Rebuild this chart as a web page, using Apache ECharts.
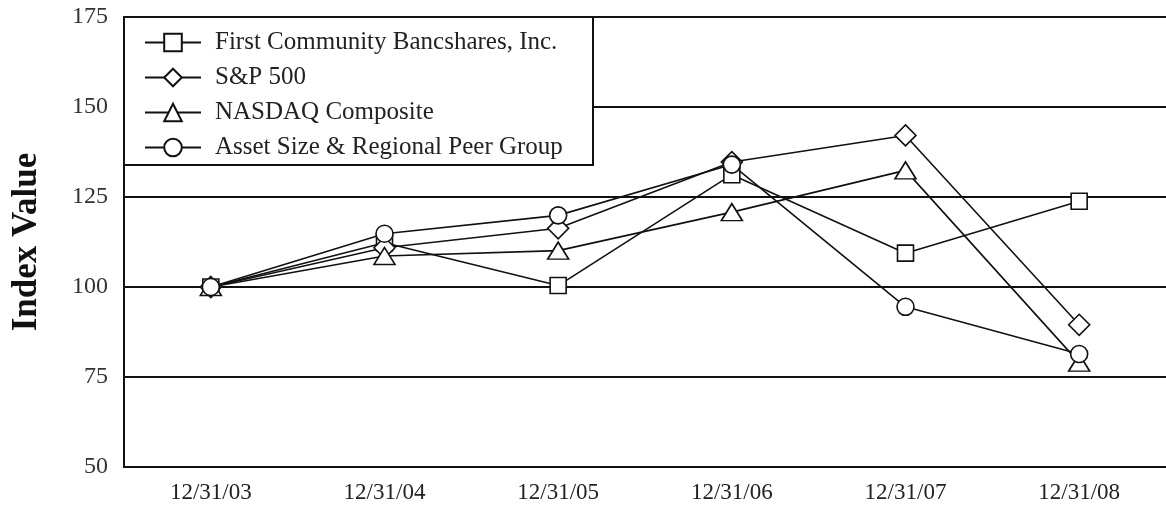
<!DOCTYPE html>
<html>
<head>
<meta charset="utf-8">
<script src="https://cdn.jsdelivr.net/npm/echarts@6/dist/echarts.min.js"></script>
<style>
  html, body { margin: 0; padding: 0; background: #fff; }
  #chart { width: 1166px; height: 515px; }
</style>
</head>
<body>
<div id="chart"></div>
<script>
const categories = ['12/31/03', '12/31/04', '12/31/05', '12/31/06', '12/31/07', '12/31/08']
const firstCommunity = [100, 112.3, 100.4, 131.2, 109.4, 123.8]
const sp500 = [100, 110.9, 116.3, 134.7, 142.1, 89.5]
const nasdaq = [100, 108.6, 110.1, 120.8, 132.4, 79.0]
const peerGroup = [100, 114.8, 119.9, 134.0, 94.5, 81.4]
const yTicks = [50, 75, 100, 125, 150, 175]

const font = 'Liberation Serif'

function makeSeries(name, data, symbol, size) {
  return {
    name: name,
    type: 'line',
    data: data,
    symbol: symbol,
    symbolSize: size,
    showAllSymbol: true,
    lineStyle: { color: '#111', width: 1.6 },
    itemStyle: { color: '#fff', borderColor: '#111', borderWidth: 1.6 },
    emphasis: { disabled: true },
    animation: false
  }
}

const chart = echarts.init(document.getElementById('chart'))
chart.setOption({
  backgroundColor: '#fff',
  animation: false,
  grid: {
    left: 124,
    top: 17,
    width: 1050,
    height: 450
  },
  // white box behind the legend, covering the upper grid lines
  graphic: [{
    type: 'rect',
    z: 3,
    shape: { x: 124, y: 17, width: 469, height: 148 },
    style: { fill: '#fff', stroke: '#111', lineWidth: 2 }
  }],
  legend: {
    orient: 'vertical',
    left: 139,
    top: 25,
    itemWidth: 56,
    itemHeight: 22,
    itemGap: 10,
    z: 10,
    textStyle: { fontFamily: font, fontSize: 25, color: '#222', padding: [0, 0, 0, 9] },
    data: ['First Community Bancshares, Inc.', 'S&P 500', 'NASDAQ Composite', 'Asset Size & Regional Peer Group']
  },
  xAxis: {
    type: 'category',
    data: categories,
    boundaryGap: true,
    axisLine: { lineStyle: { color: '#111', width: 2 } },
    axisTick: { alignWithLabel: true, length: 8, lineStyle: { color: '#111', width: 2 } },
    axisLabel: { fontFamily: font, fontSize: 23, color: '#222', margin: 14 },
    splitLine: { show: false }
  },
  yAxis: {
    type: 'value',
    min: yTicks[0],
    max: yTicks[yTicks.length - 1],
    interval: 25,
    name: 'Index Value',
    nameLocation: 'middle',
    nameGap: 80,
    nameTextStyle: { fontFamily: font, fontSize: 35, fontWeight: 'bold', color: '#111' },
    axisLine: { show: true, lineStyle: { color: '#111', width: 2 } },
    axisTick: { show: false },
    axisLabel: { fontFamily: font, fontSize: 24, color: '#333', margin: 16 },
    splitLine: { lineStyle: { color: '#111', width: 2 } }
  },
  series: [
    makeSeries('First Community Bancshares, Inc.', firstCommunity, 'rect', 16),
    makeSeries('S&P 500', sp500, 'diamond', 21),
    makeSeries('NASDAQ Composite', nasdaq, 'triangle', [21, 17]),
    makeSeries('Asset Size & Regional Peer Group', peerGroup, 'circle', 17)
  ]
})
</script>
</body>
</html>
